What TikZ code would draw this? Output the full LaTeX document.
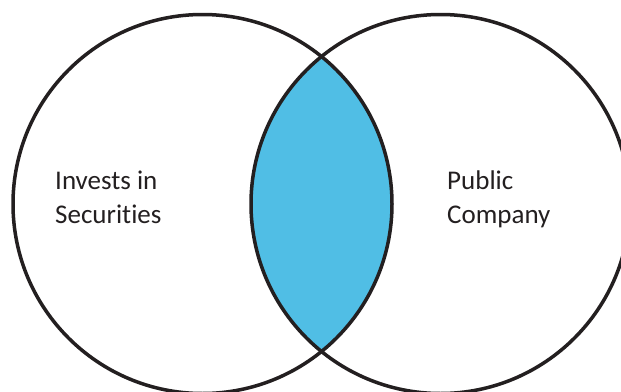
\documentclass[tikz,border=0pt]{standalone}
\usepackage{fontspec}
\setmainfont{Carlito}[Ligatures={NoCommon,NoRare,NoDiscretionary}]
\definecolor{setline}{RGB}{35,31,32}
\definecolor{lensblue}{RGB}{80,190,229}
\tikzstyle{s} = [draw=setline, line width=3.5pt, circle, minimum size=379pt, inner sep=0pt]

\begin{document}
\begin{tikzpicture}[x=1pt, y=-1pt,
			set/.style={s},
			tag/.style={anchor=base west, align=left, inner sep=0pt, text=setline,
				font=\fontsize{27}{33.6}\selectfont}]
			\useasboundingbox (0,0) rectangle (621,391);
			\clip (0,0) rectangle (621,391);
			\begin{scope}
				\clip (202.5,204) circle (189.5pt);
				\fill[lensblue] (440.5,204) circle (189.5pt);
			\end{scope}
			\node (invest)[set] at (202.5,204) {};
			\node (public)[set] at (440.5,204) {};
			\node (investtag)[tag] at (55,223) {Invests in\\Securities};
			\node (publictag)[tag] at (447,223) {Public\\Company};
		\end{tikzpicture}
\end{document}
